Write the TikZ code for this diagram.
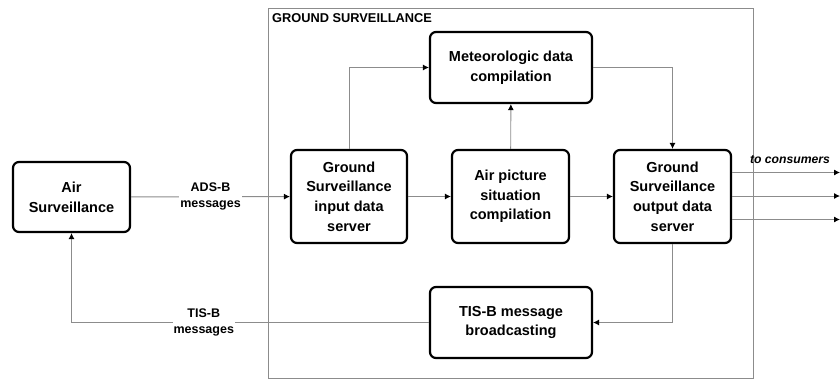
\documentclass[tikz,border=0pt]{standalone}
\usepackage{fontspec}
\setmainfont{Liberation Sans}
\usetikzlibrary{arrows.meta}
\tikzset{
	block/.style={draw=black, line width=2.2pt, rounded corners=6pt, fill=white,
		align=center, font=\fontsize{14.5}{19.7}\selectfont\bfseries, inner sep=0pt},
	link/.style={draw=black!45, line width=0.9pt, -{Latex[length=6pt,width=6pt,color=black]}},
	msg/.style={fill=white, align=center, font=\fontsize{12.5}{16}\selectfont\bfseries, inner sep=1pt}
}

\begin{document}
\begin{tikzpicture}[x=1pt,y=-1pt]
	\useasboundingbox (0,0) rectangle (840,380);

	% frame of the ground part
	\draw[black!45, line width=0.9pt] (268,8) rectangle (753,378);
	\node[anchor=north west, font=\fontsize{12.8}{15}\selectfont\bfseries, inner sep=0pt] (title) at (272,13) {GROUND SURVEILLANCE};

	\node[block, minimum width=117pt, minimum height=70pt] (air) at (71.5,197) {Air\\Surveillance};
	\node[block, minimum width=116pt, minimum height=93pt] (input) at (349,196.5) {Ground\\Surveillance\\input data\\server};
	\node[block, minimum width=162pt, minimum height=71pt] (met) at (511,67.5) {Meteorologic data\\compilation};
	\node[block, minimum width=117pt, minimum height=93pt] (pic) at (510.5,196.5) {Air picture\\situation\\compilation};
	\node[block, minimum width=117pt, minimum height=93pt] (output) at (672.5,196.5) {Ground\\Surveillance\\output data\\server};
	\node[block, minimum width=162pt, minimum height=71pt] (tis) at (511,322.5) {TIS-B message\\broadcasting};

	\coordinate (c1) at (840,172.5);
	\coordinate (c2) at (840,196);
	\coordinate (c3) at (840,219.5);
	\node[anchor=south, font=\fontsize{12.2}{14}\selectfont\bfseries\itshape, inner sep=0pt] (cons) at (790,164) {to consumers};

	\draw[link] (air) -- node[msg] {ADS-B\\messages} (input);
	\draw[link] (input) -- (pic);
	\draw[link] (pic) -- (output);
	\draw[link] (input.north) |- (met.west);
	\draw[link] (pic) -- (met);
	\draw[link] (met.east) -| (output.north);
	\draw[link] (output.south) |- (tis.east);
	\draw[link] (tis.west) -- node[msg, pos=0.63] {TIS-B\\messages} (tis.west -| air) -- (air.south);
	\draw[link] (output.east |- c1) -- (c1);
	\draw[link] (output.east |- c2) -- (c2);
	\draw[link] (output.east |- c3) -- (c3);
\end{tikzpicture}
\end{document}
